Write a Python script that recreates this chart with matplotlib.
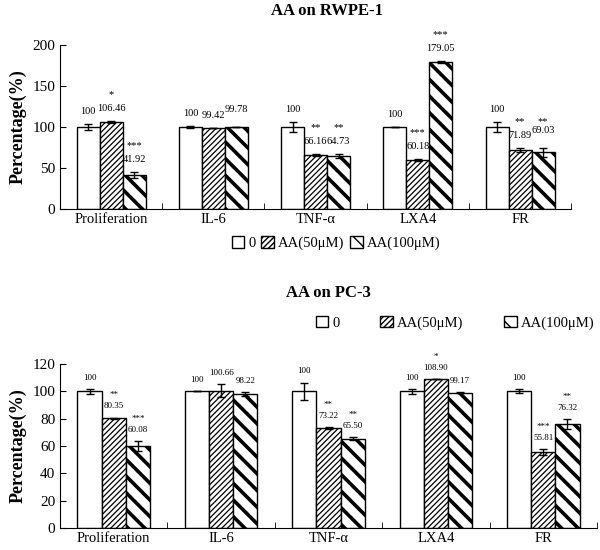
import matplotlib
matplotlib.use('Agg')
from matplotlib import pyplot as plt
from matplotlib.patches import Patch
import numpy as np

plt.rcParams['font.family'] = ['Liberation Serif', 'DejaVu Serif']

cats = ['Proliferation', 'IL-6', 'TNF-\u03b1', 'LXA4', 'FR']
names = ['0', 'AA(50\u03bcM)', 'AA(100\u03bcM)']

# AA on RWPE-1
rw_0 = [100, 100, 100, 100, 100]
rw_0_err = [4, 1, 6, 0.5, 6]
rw_50 = [106.46, 99.42, 66.16, 60.18, 71.89]
rw_50_err = [1, 0, 1.5, 1, 2]
rw_100 = [41.92, 99.78, 64.73, 179.05, 69.03]
rw_100_err = [3.5, 0, 2.5, 1.5, 5]
rw_50_sig = ['*', '', '**', '***', '**']
rw_100_sig = ['***', '', '**', '***', '**']

# AA on PC-3
pc_0 = [100, 100, 100, 100, 100]
pc_0_err = [2, 0, 6.5, 2, 1.5]
pc_50 = [80.35, 100.66, 73.22, 108.90, 55.81]
pc_50_err = [0.5, 5, 1, 0, 2]
pc_100 = [60.08, 98.22, 65.50, 99.17, 76.32]
pc_100_err = [3.5, 1.5, 1, 0.5, 3.5]
pc_50_sig = ['**', '', '**', '*', '***']
pc_100_sig = ['***', '', '**', '', '**']

hatches = ['', '//////', '\\\\']
hlw = [1.0, 0.9, 2.6]

fig = plt.figure(figsize=(6, 5.5), dpi=100)
ax1 = fig.add_axes([0.1, 0.62, 0.852, 0.298])
ax2 = fig.add_axes([0.1, 0.04, 0.895, 0.298])


def draw(ax, series, errs, sigs, ymax, step, fs, lab_off, sig_off, lift=()):
    w = 0.225
    x = np.arange(len(cats))
    for k in range(3):
        pos = x + (k - 1) * w
        bars = ax.bar(pos, series[k], w, color='white', edgecolor='black',
                      linewidth=1.0, hatch=hatches[k], zorder=2)
        for b in bars:
            if hasattr(b, 'set_hatch_linewidth'):
                b.set_hatch_linewidth(hlw[k])
        ax.errorbar(pos, series[k], yerr=errs[k], fmt='none', ecolor='black',
                    elinewidth=1, capsize=3, capthick=1, zorder=3)
        for i in range(len(cats)):
            top = series[k][i] + errs[k][i]
            txt = '100' if series[k][i] == 100 else '%.2f' % series[k][i]
            dy = 4 if (k, i) in lift else 0
            ax.annotate(txt, (pos[i], top), xytext=(0, lab_off + dy),
                        textcoords='offset points', ha='center', va='center',
                        fontsize=fs)
            if k > 0 and sigs[k - 1][i]:
                ax.annotate(sigs[k - 1][i], (pos[i], top),
                            xytext=(0, lab_off + sig_off),
                            textcoords='offset points', ha='center',
                            va='center', fontsize=fs)
    ax.set_xlim(-0.5, len(cats) - 0.5)
    ax.set_ylim(0, ymax)
    ax.set_yticks(np.arange(0, ymax + 1, step))
    ax.set_xticks(x)
    ax.set_xticklabels(cats, fontsize=10.5)
    ax.set_xticks(np.arange(0.5, len(cats), 1), minor=True)
    ax.tick_params(axis='x', which='major', length=0, pad=3)
    ax.tick_params(axis='x', which='minor', direction='in', length=4)
    ax.tick_params(axis='y', direction='in', length=4, labelsize=11)
    ax.spines['top'].set_visible(False)
    ax.spines['right'].set_visible(False)
    ax.set_ylabel('Percentage(%)', fontsize=13, fontweight='bold', labelpad=4)


draw(ax1, [rw_0, rw_50, rw_100], [rw_0_err, rw_50_err, rw_100_err],
     [rw_50_sig, rw_100_sig], 200, 50, 7.5, 9, 10, lift=[(2, 1), (2, 4)])
draw(ax2, [pc_0, pc_50, pc_100], [pc_0_err, pc_50_err, pc_100_err],
     [pc_50_sig, pc_100_sig], 120, 20, 6.5, 8, 8)

fig.text(0.545, 0.98, 'AA on RWPE-1', ha='center', va='center',
         fontsize=12, fontweight='bold')
fig.text(0.548, 0.467, 'AA on PC-3', ha='center', va='center',
         fontsize=12, fontweight='bold')

handles = [Patch(facecolor='white', edgecolor='black', hatch=hatches[k])
           for k in range(3)]
leg_kw = dict(ncol=3, frameon=False, fontsize=10.5, handlelength=0.85,
              handleheight=0.85, handletextpad=0.3, borderpad=0,
              borderaxespad=0, loc='center left')
fig.legend(handles, names, bbox_to_anchor=(0.386, 0.558),
           columnspacing=0.4, **leg_kw)
fig.legend(handles, names, bbox_to_anchor=(0.526, 0.413),
           columnspacing=2.8, **leg_kw)

fig.savefig('out.png', dpi=100)
